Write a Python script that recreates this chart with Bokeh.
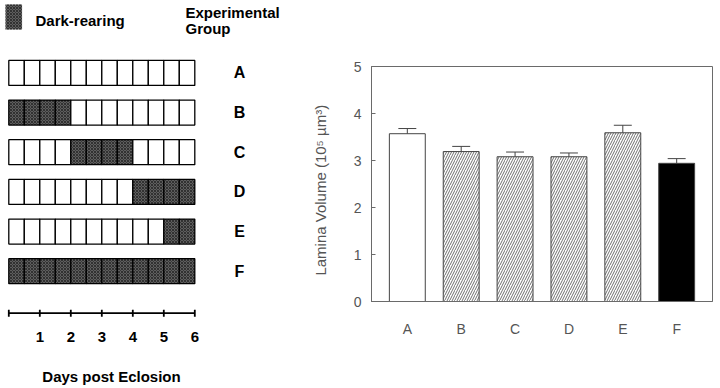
from bokeh.plotting import figure
from bokeh.models import Range1d, FixedTicker, ColumnDataSource
from bokeh.layouts import row
from bokeh.core.properties import value
from bokeh.embed import file_html
from bokeh.resources import INLINE

# ---------------- data ----------------
groups = ["A", "B", "C", "D", "E", "F"]
dark_start = [None, 0, 2, 4, 5, 0]      # day dark-rearing starts
dark_end = [None, 2, 4, 6, 6, 6]        # day dark-rearing ends
days = [0, 1, 2, 3, 4, 5, 6]
day_labels = ["1", "2", "3", "4", "5", "6"]
cells_per_day = 2
n_days = 6

volume = [3.57, 3.19, 3.08, 3.08, 3.59, 2.94]
volume_sem = [0.11, 0.11, 0.10, 0.08, 0.16, 0.10]
y_ticks = [0, 1, 2, 3, 4, 5]

# ---------------- styles ----------------
BOLD_FONT = value("Liberation Sans")
DARK_FILL = "#5e5e5e"
H = 388

# ---------------- left panel: schedule ----------------
PX_DAY = 31.0
PX_ROW = 39.66
W_L = 290
x0 = -8.3 / PX_DAY
row0_px = 72.4
y_top = -row0_px / PX_ROW
y_bot = (H - row0_px) / PX_ROW


def ux(px):
    return px / PX_DAY + x0


def uy(px):
    return (px - row0_px) / PX_ROW


left = figure(width=W_L, height=H, output_backend="svg", toolbar_location=None,
              x_range=Range1d(x0, x0 + W_L / PX_DAY),
              y_range=Range1d(y_bot, y_top),
              x_axis_location=None, y_axis_location=None,
              min_border=0, outline_line_color=None)
left.grid.visible = False

cx, cy, cfill, chatch = [], [], [], []
for i, g in enumerate(groups):
    for j in range(n_days * cells_per_day):
        d = j / cells_per_day
        dark = dark_start[i] is not None and dark_start[i] <= d < dark_end[i]
        cx.append(d + 0.5 / cells_per_day)
        cy.append(i)
        cfill.append(DARK_FILL if dark else "white")
        chatch.append("x" if dark else "blank")
cell_h = 25 / PX_ROW
left.rect(x=cx, y=cy, width=1 / cells_per_day, height=cell_h,
          fill_color=cfill, hatch_pattern=chatch, hatch_color="#1e1e1e",
          hatch_scale=3, hatch_weight=0.7, line_color="black", line_width=1.3)

# legend swatch
left.rect(x=[ux(13.3)], y=[uy(16.5)], width=16.5 / PX_DAY, height=cell_h,
          fill_color=DARK_FILL, hatch_pattern="x", hatch_color="#1e1e1e",
          hatch_scale=3, hatch_weight=0.7, line_color=None)
left.text(x=[ux(35)], y=[uy(20)], text=["Dark-rearing"],
          text_font=BOLD_FONT, text_font_style="bold", text_font_size="15px",
          text_baseline="middle", text_align="left", text_color="black")
left.text(x=[ux(185), ux(185)], y=[uy(12), uy(28)],
          text=["Experimental", "Group"],
          text_font=BOLD_FONT, text_font_style="bold", text_font_size="15px",
          text_baseline="middle", text_align="left", text_color="black")

# row labels
left.text(x=[ux(239)] * len(groups), y=list(range(len(groups))), text=groups,
          text_font=BOLD_FONT, text_font_style="bold", text_font_size="16px",
          text_baseline="middle", text_align="center", text_color="black")

# day axis
ax_y = uy(312.7)
left.segment(x0=[days[0]], y0=[ax_y], x1=[days[-1]], y1=[ax_y], line_color="black", line_width=1.8)
tick_half = 3.5 / PX_ROW
left.segment(x0=days, y0=[ax_y - tick_half] * len(days), x1=days,
             y1=[ax_y + tick_half] * len(days), line_color="black", line_width=1.8)
left.text(x=days[1:], y=[uy(336.7)] * len(day_labels), text=day_labels,
          text_font=BOLD_FONT, text_font_style="bold", text_font_size="15px",
          text_baseline="middle", text_align="center", text_color="black")
left.text(x=[ux(111)], y=[uy(376)], text=["Days post Eclosion"],
          text_font=BOLD_FONT, text_font_style="bold", text_font_size="15px",
          text_baseline="middle", text_align="center", text_color="black")

# ---------------- right panel: bar chart ----------------
xs = list(range(1, len(groups) + 1))
upper = [v + e for v, e in zip(volume, volume_sem)]
fills = ["white", "white", "white", "white", "white", "black"]
patterns = ["blank", "/", "/", "/", "/", "blank"]
src = ColumnDataSource(dict(x=xs, top=volume, upper=upper, fill=fills, pat=patterns,
                            cl=[x - 1 / 6 for x in xs], cr=[x + 1 / 6 for x in xs]))

W_R = 720 - W_L
right = figure(width=W_R, height=H, output_backend="svg", toolbar_location=None,
               x_range=Range1d(0.335, 6.665), y_range=Range1d(0, 5),
               min_border_left=81, min_border_right=8, min_border_top=66,
               min_border_bottom=87)
right.grid.visible = False
right.outline_line_color = "#6a6a6a"
right.outline_line_width = 1

for fig in (left, right):
    try:
        fig.frame_align = False
    except Exception:
        pass

right.vbar(x="x", top="top", bottom=0, width=2 / 3, source=src, fill_color="fill",
           hatch_pattern="pat", hatch_color="#4a4a4a", hatch_scale=5, hatch_weight=0.8,
           line_color="#444444", line_width=1)
right.segment(x0="x", y0="top", x1="x", y1="upper", source=src, line_color="#444444", line_width=1)
right.segment(x0="cl", y0="upper", x1="cr", y1="upper", source=src, line_color="#444444", line_width=1)

right.yaxis.ticker = FixedTicker(ticks=y_ticks)
right.yaxis.major_tick_in = 4
right.yaxis.major_tick_out = 0
right.yaxis.minor_tick_line_color = None
right.yaxis.major_label_standoff = 10
right.yaxis.axis_label = "Lamina  Volume  (10\u2075  \u00b5m\u00b3)"
right.yaxis.axis_label_standoff = 22
right.yaxis.major_tick_line_color = "#6a6a6a"

right.xaxis.ticker = FixedTicker(ticks=xs)
right.xaxis.major_label_overrides = {x: g for x, g in zip(xs, groups)}
right.xaxis.major_tick_line_color = None
right.xaxis.minor_tick_line_color = None
right.xaxis.major_label_standoff = 13

for ax in (right.xaxis[0], right.yaxis[0]):
    ax.axis_line_color = "#6a6a6a"
    ax.major_label_text_font = "Liberation Sans"
    ax.major_label_text_font_size = "14px"
    ax.major_label_text_color = "#555555"
    ax.axis_label_text_font = "Liberation Sans"
    ax.axis_label_text_font_size = "15px"
    ax.axis_label_text_font_style = "normal"
    ax.axis_label_text_color = "#555555"

layout = row(left, right)
open("out.html", "w").write(file_html(layout, INLINE))
